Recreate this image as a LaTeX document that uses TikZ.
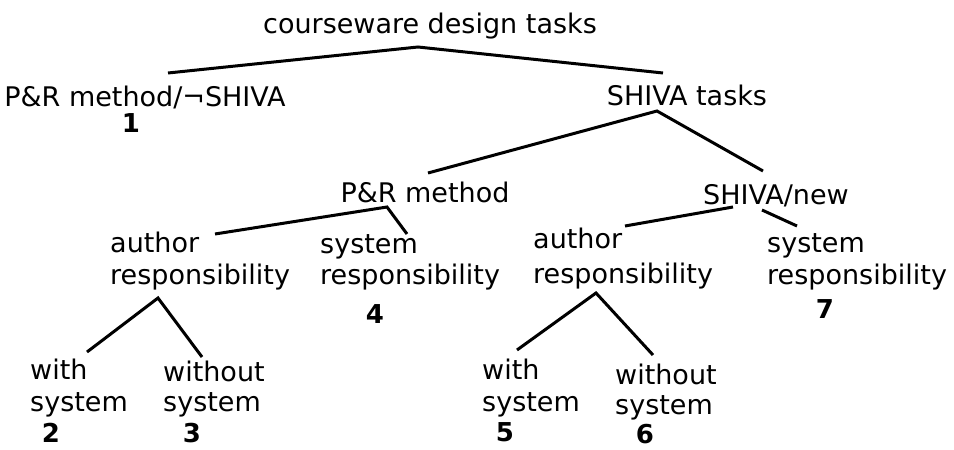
\documentclass[tikz,border=0pt]{standalone}
\usepackage{fontspec}
\setmainfont{DejaVu Sans}
\begin{document}
\begin{tikzpicture}[x=1pt,y=-1pt,
  lbl/.style={inner sep=0pt, font=\fontsize{27}{32}\selectfont},
  lbll/.style={lbl, anchor=base west},
  lblc/.style={lbl, anchor=base},
  num/.style={inner sep=0pt, anchor=base, font=\fontsize{26}{31}\selectfont\bfseries},
  branch/.style={line width=3pt, line join=miter}]
\useasboundingbox (0,0) rectangle (954,450);

% task labels
\node[lblc] (root) at (430,33) {courseware design tasks};
\node[lblc] (pnotshiva) at (145,106) {P\&R method/¬SHIVA};
\node[num]  (n1) at (131,132) {1};
\node[lblc] (shiva) at (687,105) {SHIVA tasks};
\node[lblc] (prm) at (425,202) {P\&R method};
\node[lblc] (snew) at (776,204) {SHIVA/new};

\node[lbll] (ara) at (110,252) {author};
\node[lbll] (arb) at (110,284) {responsibility};
\node[lbll] (sra) at (320,253) {system};
\node[lbll] (srb) at (320,284) {responsibility};
\node[num]  (n4) at (375,323) {4};

\node[lbll] (wsa) at (30,379) {with};
\node[lbll] (wsb) at (30,411) {system};
\node[num]  (n2) at (51,442) {2};
\node[lbll] (wosa) at (163,381) {without};
\node[lbll] (wosb) at (163,411) {system};
\node[num]  (n3) at (192,442) {3};

\node[lbll] (bra) at (533,248) {author};
\node[lbll] (brb) at (533,283) {responsibility};
\node[lbll] (tra) at (767,252) {system};
\node[lbll] (trb) at (767,284) {responsibility};
\node[num]  (n7) at (825,318) {7};

\node[lbll] (wta) at (482,379) {with};
\node[lbll] (wtb) at (482,411) {system};
\node[num]  (n5) at (505,441) {5};
\node[lbll] (wota) at (615,384) {without};
\node[lbll] (wotb) at (615,414) {system};
\node[num]  (n6) at (645,443) {6};

% branch points and branch ends
\coordinate (root-apex) at (418,47);
\coordinate (root-l) at (168,73);
\coordinate (root-r) at (663,73);
\coordinate (shiva-apex) at (657,111);
\coordinate (shiva-l) at (428,173);
\coordinate (shiva-r) at (763,171);
\coordinate (prm-apex) at (387,207);
\coordinate (prm-l) at (215,234);
\coordinate (prm-r) at (407,234);
\coordinate (snew-ls) at (733,207);
\coordinate (snew-l) at (625,226);
\coordinate (snew-rs) at (762,210);
\coordinate (snew-r) at (797,226);
\coordinate (ar-apex) at (158,298);
\coordinate (ar-l) at (87,352);
\coordinate (ar-r) at (202,357);
\coordinate (br-apex) at (596,293);
\coordinate (br-l) at (517,350);
\coordinate (br-r) at (653,355);

% branches
\draw[branch] (root-l) -- (root-apex) -- (root-r);
\draw[branch] (shiva-l) -- (shiva-apex) -- (shiva-r);
\draw[branch] (prm-l) -- (prm-apex) -- (prm-r);
\draw[branch] (snew-ls) -- (snew-l);
\draw[branch] (snew-rs) -- (snew-r);
\draw[branch] (ar-l) -- (ar-apex) -- (ar-r);
\draw[branch] (br-l) -- (br-apex) -- (br-r);
\end{tikzpicture}
\end{document}
